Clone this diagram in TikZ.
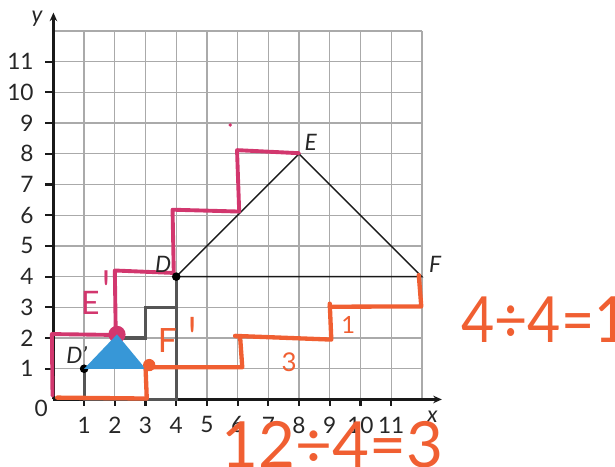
\documentclass[tikz,border=0pt]{standalone}
\usepackage{fontspec}
\setmainfont{Lato}
\usepackage{tikz}
\usetikzlibrary{positioning,arrows.meta}
\definecolor{gridc}{HTML}{AAAAAA}
\definecolor{stairc}{HTML}{555555}
\definecolor{penpink}{HTML}{D2376E}
\definecolor{penorange}{HTML}{F05F32}
\definecolor{triblue}{HTML}{3797D7}

\begin{document}
\begin{tikzpicture}[
          every node/.style={font=\fontsize{21}{25}\selectfont,text=black!85,inner sep=0pt},
          axlab/.style={font=\fontsize{21}{25}\selectfont\itshape},
          pt/.style={circle,fill=black,inner sep=0pt,minimum size=8pt},
          gridline/.style={gridc,line width=1.2pt},
          axis/.style={black!90,line width=2pt},
          stair/.style={stairc,line width=3pt},
          tri/.style={black!90,line width=1.3pt},
          pinkpen/.style={penpink,line width=3.6pt,line cap=round,line join=round},
          orangepen/.style={penorange,line width=4pt,line cap=round,line join=round},
          hand/.style={font=\fontsize{#1}{#1}\selectfont},
        ]
        \useasboundingbox (-1.74,-2.17) rectangle (18.29,13.01);
        % grid and axes
        \draw[gridline] (0,0) grid (12,12);
        \draw[axis,-{Stealth[length=8pt,width=7pt]}] (0,0) -- (0,12.6);
        \draw[axis,-{Stealth[length=8pt,width=7pt]}] (0,0) -- (12.65,0);
        \foreach \i in {1,...,11} {
          \draw[axis] (-0.27,\i) -- (0,\i);
          \draw[axis] (\i,0) -- (\i,-0.22);
          \node[anchor=east] (ylab\i) at (-0.64,\i) {\i};
          \node (xlab\i) at (\i,-0.83) {\i};
        }
        \node (zero) at (-0.4,-0.3) {0};
        \node[axlab] (ylab) at (-0.53,12.39) {y};
        \node[axlab] (xlab) at (12.34,-0.57) {x};
        % points
        \coordinate (D) at (4,4);
        \coordinate (E) at (8,8);
        \coordinate (F) at (12,4);
        \coordinate (D1) at (1,1);
        \coordinate (E1) at (2.07,2.12);
        \coordinate (F1) at (3,1);
        % stairs
        \draw[stair] (D1) -- (1,0) -- (4,0) -- (D);
        \draw[stair] (2,2) -- (3,2) -- (3,3) -- (4,3);
        \draw[tri] (D) -- (E) -- (F) -- cycle;
        % pen marks
        \draw[pinkpen] (-0.03,0.12) -- (-0.05,2.13) -- (2.03,2.1) -- (2.0,4.2)
          -- (3.92,4.12) -- (3.88,6.18) -- (6.05,6.12) -- (5.98,8.12) -- (8.0,8.02);
        \fill[penpink] (5.76,8.94) circle (0.06);
        \draw[orangepen] (0.12,0.06) -- (3.04,0.03) -- (3.0,1.05) -- (6.15,1.05)
          -- (6.08,2.04) -- (5.92,2.07);
        \draw[orangepen] (5.92,2.07) -- (9.05,1.95) -- (9.0,3.12);
        \draw[orangepen] (9.0,3.02) -- (11.98,3.03) -- (11.9,4.05);
        \node[pt] (D1dot) at (D1) {};
        \node[pt] (Ddot) at (D) {};
        \fill[penpink] (E1) circle (0.28);
        \fill[triblue] (D1) -- (E1) -- (F1) -- cycle;
        \fill[penorange] (3.12,1.12) circle (0.2);
        % labels
        \node[axlab] (Dlab) at (3.57,4.41) {D};
        \node[axlab] (Elab) at (8.38,8.38) {E};
        \node[axlab] (Flab) at (12.43,4.41) {F};
        \node[axlab] (D1lab) at (0.76,1.45) {D'};
        \node[hand=30,text=penpink] (E1lab) at (1.2,3.13) {E};
        \node[hand=30,text=penpink,anchor=north] (E1prime) at (1.72,4.21) {\scalebox{1.2}[1.8]{\textquotesingle}};
        \node[hand=31,text=penorange] (F1lab) at (3.71,1.93) {F};
        \node[hand=31,text=penorange,anchor=north] (F1prime) at (4.52,2.69) {\scalebox{1.2}[1.8]{\textquotesingle}};
        \node[hand=24,text=penorange] (run3) at (7.68,1.2) {3};
        \node[hand=22,text=penorange] (rise1) at (9.6,2.42) {1};
        \node[hand=59,text=penorange,anchor=base west] (riseq) at (13.28,1.84) {\scalebox{0.9}[1]{4÷4=1}};
        \node[hand=59,text=penorange,anchor=base west] (runq) at (5.47,-2.2) {12÷4=3};
      \end{tikzpicture}
\end{document}
